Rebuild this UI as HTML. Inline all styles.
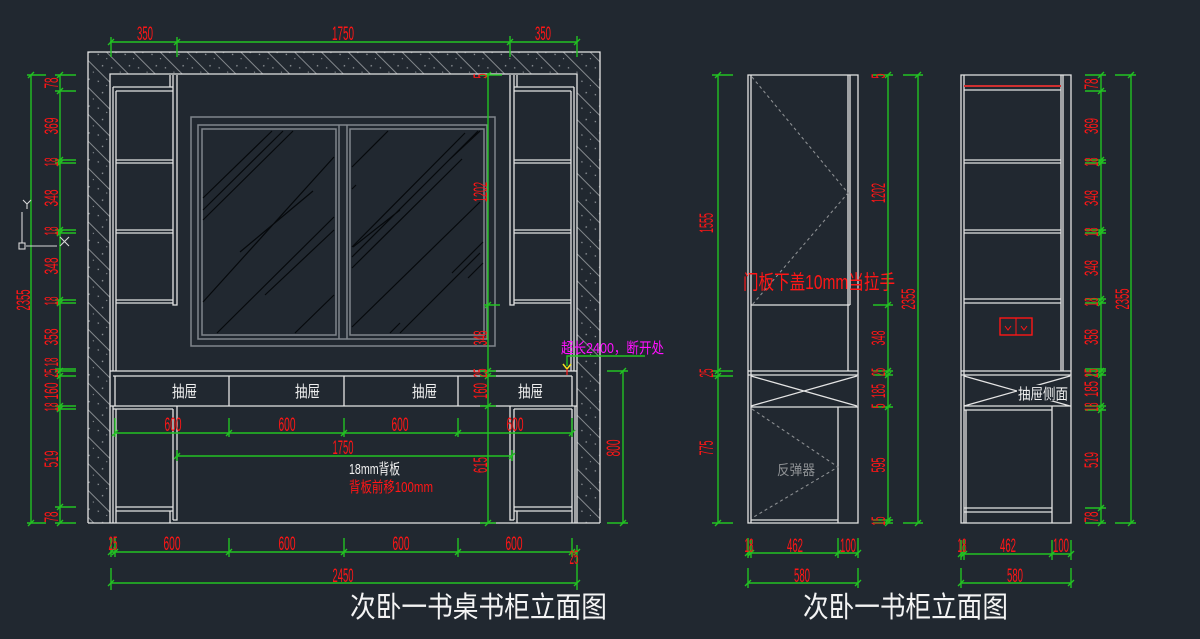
<!DOCTYPE html>
<html><head><meta charset="utf-8">
<style>
html,body{margin:0;padding:0;background:#212830;}
svg{display:block;}
.g{stroke:#22c222;stroke-width:1.4;fill:none;}
.w{stroke:#e4e4e4;stroke-width:1.3;fill:none;}
.gr{stroke:#80868c;stroke-width:1.5;fill:none;}
.k{stroke:#06090c;stroke-width:1.2;fill:none;}
.d{stroke:#8c8f92;stroke-width:1.1;fill:none;stroke-dasharray:3 3;}
.r{fill:#ff1616;font-family:"Liberation Sans Narrow","Liberation Sans",sans-serif;font-size:19px;}
.cj{font-family:"Liberation Sans","Noto Sans CJK SC",sans-serif;}
</style></head>
<body>
<svg width="1200" height="639" viewBox="0 0 1200 639" xmlns="http://www.w3.org/2000/svg">
<defs>
<pattern id="hatch" patternUnits="userSpaceOnUse" width="19" height="19" patternTransform="rotate(-45)">
<path d="M0.5,0 V19" stroke="#8e9296" stroke-width="0.9"/>
<circle cx="7" cy="5" r="0.8" fill="#9a9ea2"/>
<circle cx="12" cy="13" r="0.7" fill="#9a9ea2"/>
<circle cx="15" cy="3" r="0.6" fill="#9a9ea2"/>
</pattern>
</defs>
<rect width="1200" height="639" fill="#212830"/>

<!-- WALL -->
<rect x="88" y="52" width="512" height="471" fill="url(#hatch)"/>
<rect x="110" y="74" width="467" height="449" fill="#212830"/>
<path class="w" d="M88,523 V52 H600 V523 M88,523 H600 M110,523 V74 H577 V523"/>

<!-- WINDOW -->
<rect class="gr" x="191" y="117" width="304" height="229"/>
<rect class="gr" x="198" y="125" width="289" height="214"/>
<rect class="gr" x="202" y="129" width="134" height="206"/>
<path class="gr" d="M339,125 V339 M347,125 V339"/>
<rect class="gr" x="350" y="129" width="134" height="206"/>
<path class="k" d="M203,198 L272,131 M203,210 L283,131 M203,220 L293,131 M203,302 L334,157 M240,252 L313,191 M217,333 L334,217 M265,295 L334,230 M295,333 L334,295
M352,167 L388,131 M352,247 L465,133 M352,257 L478,131 M352,268 L462,159 M450,159 L480,131 M352,327 L480,202 M400,333 L480,253 M452,273 L483,242 M468,278 L483,263 M390,333 L400,323 M353,247 L400,210 M352,189 L356,185"/>

<!-- LEFT TOWER -->
<path class="w" d="M113,87 V371 M116,91 V371 M113,87 H173 M116,91 H173 M173,75 V305 H177 V75 M170,75 V87
M116,160 H173 M116,163 H173 M116,230 H173 M116,233 H173 M116,300 H173 M116,303 H173"/>
<!-- RIGHT TOWER -->
<path class="w" d="M510,75 V305 H514 V75 M517,75 V87 M514,87 H574 M514,91 H571 M574,87 V371 M571,91 V371
M514,160 H571 M514,163 H571 M514,230 H571 M514,233 H571 M514,300 H571 M514,303 H571"/>
<!-- DESK / DRAWERS -->
<path class="w" d="M110,371 H577 M113,376 H572 M115,376 V406 M229,376 V406 M344,376 V406 M458,376 V406 M572,376 V406 M110,406 H577"/>
<!-- LOWER LEFT -->
<path class="w" d="M113,406 V523 M116,409 V523 M113,409 H173 M173,409 V520 M177,406 V520 H173 M116,507 H173 M116,511 H173 M170,511 V523"/>
<!-- LOWER RIGHT -->
<path class="w" d="M510,406 V520 H514 M514,409 V520 M514,409 H572 M572,409 V523 M575,406 V523 M514,507 H572 M514,511 H572 M517,511 V523"/>

<g class="cj" fill="#f0f0f0" font-size="16">
<text x="172" y="397" textLength="25" lengthAdjust="spacingAndGlyphs">抽屉</text>
<text x="295" y="397" textLength="25" lengthAdjust="spacingAndGlyphs">抽屉</text>
<text x="412" y="397" textLength="25" lengthAdjust="spacingAndGlyphs">抽屉</text>
<text x="518" y="397" textLength="25" lengthAdjust="spacingAndGlyphs">抽屉</text>
</g>
<text class="cj" x="349" y="474" font-size="15" fill="#f0f0f0" textLength="51" lengthAdjust="spacingAndGlyphs">18mm背板</text>
<text class="cj" x="349" y="492" font-size="15" fill="#ff1616" textLength="84" lengthAdjust="spacingAndGlyphs">背板前移100mm</text>
<text class="cj" x="561" y="353" font-size="15" fill="#ff10ff" textLength="103" lengthAdjust="spacingAndGlyphs">超长2400，断开处</text>

<!-- MAIN GREEN DIMS -->
<path class="g" d="M110,42 H577 M111,37 V57 M177,37 V57 M510,36 V57 M577,36 V57
M31,75 V523 M27,75 H46 M27,523 H46 M60,75 V523
M55,75 H76 M55,91 H76 M55,160 H76 M55,163 H76 M55,230 H76 M55,233 H76 M55,300 H76 M55,303 H76 M55,369 H76 M55,371 H76 M55,376 H76 M55,406 H76 M55,409 H76 M55,507 H76 M55,523 H76
M488,73 V523 M480,75 H502 M484,305 H500 M480,371 H496 M480,376 H496 M480,406 H496 M480,523 H496
M115,433 H572 M115,418 V437 M229,418 V437 M344,418 V437 M458,418 V437 M572,418 V437
M177,456 H512 M177,450 V461 M512,450 V461
M623,371 V523 M607,371 H628 M607,523 H628
M111,552 H577 M111,538 V557 M115,538 V557 M229,538 V557 M344,538 V557 M458,538 V557 M572,538 V557 M577,545 V590
M111,583 H577 M111,568 V590
M645,356 H567 V366"/>
<path class="g" stroke-width="1.2" d="M108,45 l6,-6 M174,45 l6,-6 M507,45 l6,-6 M574,45 l6,-6
M28,78 l6,-6 M28,526 l6,-6 M57,78 l6,-6 M57,94 l6,-6 M57,163 l6,-6 M57,166 l6,-6 M57,233 l6,-6 M57,236 l6,-6 M57,303 l6,-6 M57,306 l6,-6 M57,374 l6,-6 M57,379 l6,-6 M57,409 l6,-6 M57,412 l6,-6 M57,510 l6,-6 M57,526 l6,-6
M485,78 l6,-6 M485,308 l6,-6 M485,374 l6,-6 M485,379 l6,-6 M485,409 l6,-6 M485,526 l6,-6
M112,436 l6,-6 M226,436 l6,-6 M341,436 l6,-6 M455,436 l6,-6 M569,436 l6,-6 M174,459 l6,-6 M509,459 l6,-6
M620,374 l6,-6 M620,526 l6,-6
M108,555 l6,-6 M112,555 l6,-6 M226,555 l6,-6 M341,555 l6,-6 M455,555 l6,-6 M569,555 l6,-6 M574,555 l6,-6 M108,586 l6,-6 M574,586 l6,-6"/>
<path d="M563,364 L567,369 L571,364" stroke="#f0e020" stroke-width="1.5" fill="none"/>
<path d="M567,369 V375" stroke="#ff1616" stroke-width="1.2"/>

<!-- MAIN DIM TEXT -->
<g class="r" text-anchor="middle">
<text x="145" y="40" textLength="16" lengthAdjust="spacingAndGlyphs">350</text>
<text x="343" y="40" textLength="22" lengthAdjust="spacingAndGlyphs">1750</text>
<text x="543" y="40" textLength="16" lengthAdjust="spacingAndGlyphs">350</text>
<text x="173" y="431" textLength="17" lengthAdjust="spacingAndGlyphs">600</text>
<text x="287" y="431" textLength="17" lengthAdjust="spacingAndGlyphs">600</text>
<text x="400" y="431" textLength="17" lengthAdjust="spacingAndGlyphs">600</text>
<text x="515" y="431" textLength="17" lengthAdjust="spacingAndGlyphs">600</text>
<text x="343" y="454" textLength="21" lengthAdjust="spacingAndGlyphs">1750</text>
<text x="113" y="550" textLength="9" lengthAdjust="spacingAndGlyphs">25</text>
<text x="172" y="550" textLength="17" lengthAdjust="spacingAndGlyphs">600</text>
<text x="287" y="550" textLength="17" lengthAdjust="spacingAndGlyphs">600</text>
<text x="401" y="550" textLength="17" lengthAdjust="spacingAndGlyphs">600</text>
<text x="514" y="550" textLength="17" lengthAdjust="spacingAndGlyphs">600</text>
<text x="574" y="564" textLength="9" lengthAdjust="spacingAndGlyphs">25</text>
<text x="343" y="582" textLength="21" lengthAdjust="spacingAndGlyphs">2450</text>

<text transform="translate(58,83) rotate(-90)" textLength="11" lengthAdjust="spacingAndGlyphs">78</text>
<text transform="translate(58,126) rotate(-90)" textLength="17" lengthAdjust="spacingAndGlyphs">369</text>
<text transform="translate(58,162) rotate(-90)" textLength="9" lengthAdjust="spacingAndGlyphs">18</text>
<text transform="translate(58,198) rotate(-90)" textLength="17" lengthAdjust="spacingAndGlyphs">348</text>
<text transform="translate(58,231) rotate(-90)" textLength="9" lengthAdjust="spacingAndGlyphs">18</text>
<text transform="translate(58,266) rotate(-90)" textLength="17" lengthAdjust="spacingAndGlyphs">348</text>
<text transform="translate(58,301) rotate(-90)" textLength="9" lengthAdjust="spacingAndGlyphs">18</text>
<text transform="translate(58,337) rotate(-90)" textLength="17" lengthAdjust="spacingAndGlyphs">358</text>
<text transform="translate(58,362) rotate(-90)" textLength="9" lengthAdjust="spacingAndGlyphs">18</text>
<text transform="translate(58,373) rotate(-90)" textLength="9" lengthAdjust="spacingAndGlyphs">25</text>
<text transform="translate(58,391) rotate(-90)" textLength="17" lengthAdjust="spacingAndGlyphs">160</text>
<text transform="translate(58,407) rotate(-90)" textLength="9" lengthAdjust="spacingAndGlyphs">18</text>
<text transform="translate(58,459) rotate(-90)" textLength="17" lengthAdjust="spacingAndGlyphs">519</text>
<text transform="translate(58,517) rotate(-90)" textLength="11" lengthAdjust="spacingAndGlyphs">78</text>
<text transform="translate(30,300) rotate(-90)" textLength="21" lengthAdjust="spacingAndGlyphs">2355</text>

<text transform="translate(487,76) rotate(-90)" textLength="5" lengthAdjust="spacingAndGlyphs">5</text>
<text transform="translate(487,192) rotate(-90)" textLength="20" lengthAdjust="spacingAndGlyphs">1202</text>
<text transform="translate(487,338) rotate(-90)" textLength="15" lengthAdjust="spacingAndGlyphs">348</text>
<text transform="translate(487,373) rotate(-90)" textLength="9" lengthAdjust="spacingAndGlyphs">25</text>
<text transform="translate(487,391) rotate(-90)" textLength="16" lengthAdjust="spacingAndGlyphs">160</text>
<text transform="translate(487,465) rotate(-90)" textLength="16" lengthAdjust="spacingAndGlyphs">615</text>
<text transform="translate(620,448) rotate(-90)" textLength="17" lengthAdjust="spacingAndGlyphs">800</text>
</g>

<!-- UCS ICON -->
<path d="M22,212 V243 M26,246 H57 M60,237 L69,246 M69,237 L60,246 M23,200 L27,204 L31,200 M27,204 V209" stroke="#d8d8d8" stroke-width="1.1" fill="none"/>
<rect x="19" y="243" width="6" height="6" stroke="#d8d8d8" stroke-width="1.1" fill="none"/>

<!-- MIDDLE DRAWING -->
<path class="w" d="M748,75 H858 V523 H748 Z M751,75 V523 M848,75 V371 M850,75 V305 M751,305 H850
M748,371 H858 M748,375 H858 M751,407 H858 M751,376 L857,406 M857,376 L751,406
M751,407 H838 V520 H751 M838,407 V523"/>
<path class="d" d="M752,77 L848,193 L752,305 M752,409 L838,467 L752,518"/>
<text class="cj" x="743" y="289" font-size="20" fill="#ff1616" textLength="152" lengthAdjust="spacingAndGlyphs">门板下盖10mm当拉手</text>
<text class="cj" x="777" y="475" font-size="14" fill="#8f9295" textLength="38" lengthAdjust="spacingAndGlyphs">反弹器</text>

<path class="g" d="M718,75 V523 M712,75 H733 M712,371 H733 M712,376 H733 M712,523 H733
M888,75 V523 M873,75 H893 M873,305 H893 M873,371 H893 M873,375 H893 M873,407 H893 M873,520 H893 M873,523 H893
M918,75 V523 M903,75 H923 M903,523 H923
M748,553 H858 M748,538 V558 M751,540 V558 M838,538 V558 M858,538 V558
M748,583 H858 M748,568 V588 M858,568 V588"/>
<path class="g" stroke-width="1.2" d="M715,78 l6,-6 M715,374 l6,-6 M715,379 l6,-6 M715,526 l6,-6
M885,78 l6,-6 M885,308 l6,-6 M885,374 l6,-6 M885,378 l6,-6 M885,410 l6,-6 M885,523 l6,-6 M885,526 l6,-6 M915,78 l6,-6 M915,526 l6,-6
M745,556 l6,-6 M748,556 l6,-6 M835,556 l6,-6 M855,556 l6,-6 M745,586 l6,-6 M855,586 l6,-6"/>
<g class="r" text-anchor="middle">
<text transform="translate(713,223) rotate(-90)" textLength="20" lengthAdjust="spacingAndGlyphs">1555</text>
<text transform="translate(713,373) rotate(-90)" textLength="9" lengthAdjust="spacingAndGlyphs">25</text>
<text transform="translate(713,448) rotate(-90)" textLength="15" lengthAdjust="spacingAndGlyphs">775</text>
<text transform="translate(885,76) rotate(-90)" textLength="5" lengthAdjust="spacingAndGlyphs">5</text>
<text transform="translate(885,193) rotate(-90)" textLength="20" lengthAdjust="spacingAndGlyphs">1202</text>
<text transform="translate(885,338) rotate(-90)" textLength="15" lengthAdjust="spacingAndGlyphs">348</text>
<text transform="translate(885,372) rotate(-90)" textLength="8" lengthAdjust="spacingAndGlyphs">25</text>
<text transform="translate(885,391) rotate(-90)" textLength="14" lengthAdjust="spacingAndGlyphs">185</text>
<text transform="translate(885,406) rotate(-90)" textLength="5" lengthAdjust="spacingAndGlyphs">5</text>
<text transform="translate(885,465) rotate(-90)" textLength="15" lengthAdjust="spacingAndGlyphs">595</text>
<text transform="translate(885,521) rotate(-90)" textLength="9" lengthAdjust="spacingAndGlyphs">15</text>
<text transform="translate(915,299) rotate(-90)" textLength="21" lengthAdjust="spacingAndGlyphs">2355</text>
<text x="749" y="552" textLength="9" lengthAdjust="spacingAndGlyphs">18</text>
<text x="795" y="552" textLength="16" lengthAdjust="spacingAndGlyphs">462</text>
<text x="848" y="552" textLength="16" lengthAdjust="spacingAndGlyphs">100</text>
<text x="802" y="582" textLength="16" lengthAdjust="spacingAndGlyphs">580</text>
</g>

<!-- RIGHT DRAWING -->
<path class="w" d="M961,75 H1071 V523 H961 Z M964,75 V523 M1061,75 V371 M1063,75 V371 M964,90 H1061
M964,160 H1061 M964,163 H1061 M964,230 H1061 M964,233 H1061 M964,299 H1061 M964,303 H1061
M961,371 H1071 M961,375 H1071 M964,376 L1070,406 M1070,376 L964,406
M964,406 H1071 M964,410 H1052 M1052,406 V523 M966,410 V523 M964,508 H1052 M964,512 H1052"/>
<path d="M964,86 H1061" stroke="#d03030" stroke-width="2"/>
<rect x="1000" y="318" width="32" height="17" fill="none" stroke="#ff1616" stroke-width="1.4"/>
<path d="M1016,318 V335 M1005,326 l3,4 l3,-4 M1021,326 l3,4 l3,-4" stroke="#ff1616" stroke-width="1" fill="none"/>
<rect x="1017" y="385" width="52" height="16" fill="#212830"/>
<text class="cj" x="1018" y="399" font-size="15" fill="#f0f0f0" textLength="50" lengthAdjust="spacingAndGlyphs">抽屉侧面</text>

<path class="g" d="M1101,75 V523
M1085,75 H1106 M1085,91 H1106 M1085,160 H1106 M1085,163 H1106 M1085,230 H1106 M1085,233 H1106 M1085,299 H1106 M1085,303 H1106 M1085,369 H1106 M1085,371 H1106 M1085,375 H1106 M1085,406 H1106 M1085,410 H1106 M1085,508 H1106 M1085,523 H1106
M1131,75 V523 M1115,75 H1136 M1115,523 H1136
M961,554 H1071 M961,540 V560 M964,540 V560 M1052,540 V560 M1071,540 V560
M961,583 H1071 M961,568 V588 M1071,568 V588"/>
<path class="g" stroke-width="1.2" d="M1098,78 l6,-6 M1098,94 l6,-6 M1098,163 l6,-6 M1098,166 l6,-6 M1098,233 l6,-6 M1098,236 l6,-6 M1098,302 l6,-6 M1098,306 l6,-6 M1098,374 l6,-6 M1098,378 l6,-6 M1098,409 l6,-6 M1098,413 l6,-6 M1098,511 l6,-6 M1098,526 l6,-6 M1128,78 l6,-6 M1128,526 l6,-6
M958,557 l6,-6 M961,557 l6,-6 M1049,557 l6,-6 M1068,557 l6,-6 M958,586 l6,-6 M1068,586 l6,-6"/>
<g class="r" text-anchor="middle">
<text transform="translate(1098,84) rotate(-90)" textLength="11" lengthAdjust="spacingAndGlyphs">78</text>
<text transform="translate(1098,126) rotate(-90)" textLength="16" lengthAdjust="spacingAndGlyphs">369</text>
<text transform="translate(1098,162) rotate(-90)" textLength="9" lengthAdjust="spacingAndGlyphs">18</text>
<text transform="translate(1098,198) rotate(-90)" textLength="16" lengthAdjust="spacingAndGlyphs">348</text>
<text transform="translate(1098,232) rotate(-90)" textLength="9" lengthAdjust="spacingAndGlyphs">18</text>
<text transform="translate(1098,268) rotate(-90)" textLength="16" lengthAdjust="spacingAndGlyphs">348</text>
<text transform="translate(1098,302) rotate(-90)" textLength="9" lengthAdjust="spacingAndGlyphs">18</text>
<text transform="translate(1098,337) rotate(-90)" textLength="16" lengthAdjust="spacingAndGlyphs">358</text>
<text transform="translate(1098,373) rotate(-90)" textLength="9" lengthAdjust="spacingAndGlyphs">25</text>
<text transform="translate(1098,389) rotate(-90)" textLength="16" lengthAdjust="spacingAndGlyphs">185</text>
<text transform="translate(1098,407) rotate(-90)" textLength="9" lengthAdjust="spacingAndGlyphs">18</text>
<text transform="translate(1098,460) rotate(-90)" textLength="16" lengthAdjust="spacingAndGlyphs">519</text>
<text transform="translate(1098,517) rotate(-90)" textLength="11" lengthAdjust="spacingAndGlyphs">78</text>
<text transform="translate(1129,299) rotate(-90)" textLength="21" lengthAdjust="spacingAndGlyphs">2355</text>
<text x="962" y="552" textLength="9" lengthAdjust="spacingAndGlyphs">18</text>
<text x="1008" y="552" textLength="16" lengthAdjust="spacingAndGlyphs">462</text>
<text x="1061" y="552" textLength="16" lengthAdjust="spacingAndGlyphs">100</text>
<text x="1015" y="582" textLength="16" lengthAdjust="spacingAndGlyphs">580</text>
</g>

<!-- TITLES -->
<text class="cj" x="350" y="617" font-size="29" fill="#f4f4f4" textLength="257" lengthAdjust="spacingAndGlyphs">次卧一书桌书柜立面图</text>
<text class="cj" x="803" y="617" font-size="29" fill="#f4f4f4" textLength="205" lengthAdjust="spacingAndGlyphs">次卧一书柜立面图</text>
</svg>
</body></html>
